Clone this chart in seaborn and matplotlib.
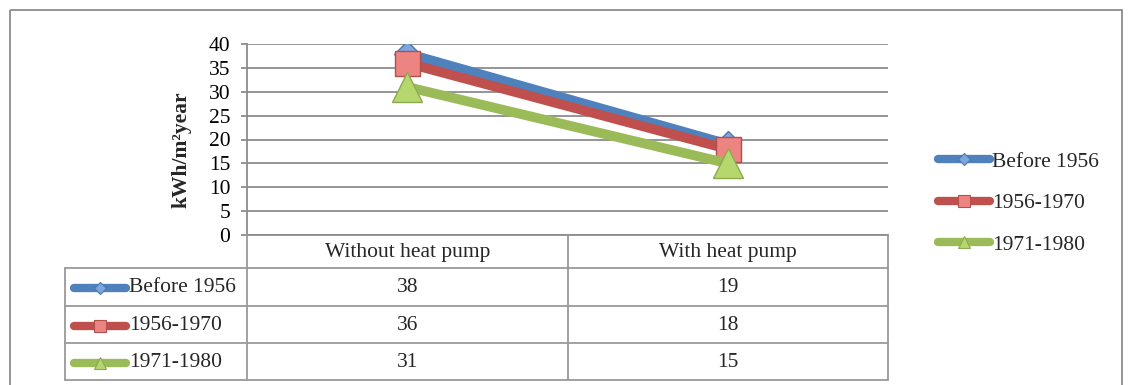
import matplotlib
matplotlib.use("Agg")
import matplotlib.pyplot as plt
from matplotlib.lines import Line2D
from matplotlib.patches import Rectangle
import seaborn as sns
import pandas as pd

categories = ["Without heat pump", "With heat pump"]
series = ["Before 1956", "1956-1970", "1971-1980"]
before_1956 = [38, 19]
y1956_1970 = [36, 18]
y1971_1980 = [31, 15]
y_ticks = [0, 5, 10, 15, 20, 25, 30, 35, 40]
y_label = "kWh/m\u00b2year"

values = [before_1956, y1956_1970, y1971_1980]
df = pd.DataFrame({
    "category": categories * 3,
    "series": [s for s in series for _ in categories],
    "value": before_1956 + y1956_1970 + y1971_1980,
})

sns.set_theme(style="white")
plt.rcParams["font.family"] = ["Liberation Serif", "DejaVu Serif"]

FS = 15.5
line_cols = ["#4F81BD", "#C0504D", "#9BBB59"]
face_cols = ["#7EA6DA", "#EC8582", "#B6D66E"]
edge_cols = ["#4A7AB5", "#B4504C", "#8DAA4E"]
markers = ["D", "s", "^"]
msizes = [13.5, 18, 21]
leg_ms = [6.5, 8, 8.5]
grid_col = "#8C8C8C"

W, H = 1128, 385
fig = plt.figure(figsize=(W / 100, H / 100), dpi=100)
ax = fig.add_axes([247 / W, 1 - 235 / H, (888 - 247) / W, (235 - 44) / H])

for s, c, fc, ec, m, ms in zip(series, line_cols, face_cols, edge_cols, markers, msizes):
    sub = df[df["series"] == s]
    sns.lineplot(data=sub, x="category", y="value", ax=ax, color=c, lw=7,
                 marker=m, markersize=ms, markerfacecolor=fc, markeredgecolor=ec,
                 markeredgewidth=1.0, solid_capstyle="butt", legend=False, sort=False)

ax.set_xlim(-0.5, 1.5)
ax.set_ylim(0, 40)
ax.set_yticks(y_ticks)
ax.set_yticklabels([str(v) for v in y_ticks], fontsize=FS)
ax.set_xticks([])
ax.set_xlabel("")
ax.set_ylabel(y_label, fontsize=FS, fontweight="bold")
ax.yaxis.set_label_coords(-0.086, 0.445)
ax.yaxis.grid(True, color=grid_col, lw=1.3)
ax.set_axisbelow(True)
for side in ["top", "right"]:
    ax.spines[side].set_visible(False)
ax.spines["left"].set_color(grid_col)
ax.spines["left"].set_linewidth(1.3)
ax.spines["bottom"].set_color(grid_col)
ax.spines["bottom"].set_linewidth(1.3)
ax.tick_params(axis="y", which="both", left=True, length=4, width=1.3, color=grid_col,
               pad=8, labelcolor="black")

# overlay in pixel coordinates for frame and data table
ov = fig.add_axes([0, 0, 1, 1], zorder=-1)
ov.set_xlim(0, W)
ov.set_ylim(H, 0)
ov.axis("off")
ov.add_patch(Rectangle((10, 10), 1112, 400, fill=False, edgecolor="#8C8C8C", lw=1.3))

tab_col = "#9A9A9A"
ov2 = fig.add_axes([0, 0, 1, 1], zorder=5)
ov2.set_xlim(0, W)
ov2.set_ylim(H, 0)
ov2.axis("off")
ov2.patch.set_alpha(0)

col_x = [247, 568, 888]
row_y = [235, 268, 306, 343, 380]
left_x = 65
for x in col_x:
    ov2.plot([x, x], [row_y[0], row_y[-1]], color=tab_col, lw=1.3)
ov2.plot([left_x, left_x], [row_y[1], row_y[-1]], color=tab_col, lw=1.3)
for y in row_y[1:]:
    ov2.plot([left_x, col_x[-1]], [y, y], color=tab_col, lw=1.3)

for j, cat in enumerate(categories):
    cx = (col_x[j] + col_x[j + 1]) / 2
    ov2.text(cx, (row_y[0] + row_y[1]) / 2 + 1, cat, ha="center", va="center", fontsize=FS)
for i, (s, vals) in enumerate(zip(series, values)):
    cy = (row_y[i + 1] + row_y[i + 2]) / 2 + 1
    ov2.plot([74, 126], [cy, cy], color=line_cols[i], lw=6, solid_capstyle="round")
    ov2.plot([100], [cy], marker=markers[i], markersize=leg_ms[i],
             markerfacecolor=face_cols[i], markeredgecolor=edge_cols[i], markeredgewidth=0.8)
    ov2.text(129, cy, s, ha="left", va="center", fontsize=FS)
    for j, v in enumerate(vals):
        cx = (col_x[j] + col_x[j + 1]) / 2
        ov2.text(cx, cy, str(v), ha="center", va="center", fontsize=FS)

# right legend
handles = [Line2D([0], [0], color=c, lw=6, marker=m, markersize=lm, markerfacecolor=fc,
                  markeredgecolor=ec, markeredgewidth=0.8, solid_capstyle="round")
           for c, fc, ec, m, lm in zip(line_cols, face_cols, edge_cols, markers, leg_ms)]
fig.legend(handles, series, loc="upper left", bbox_to_anchor=(929 / W, 1 - 143 / H),
           frameon=False, fontsize=FS, handlelength=2.45, handletextpad=0.08,
           labelspacing=1.0, borderaxespad=0)

fig.savefig("out.png", dpi=100)
